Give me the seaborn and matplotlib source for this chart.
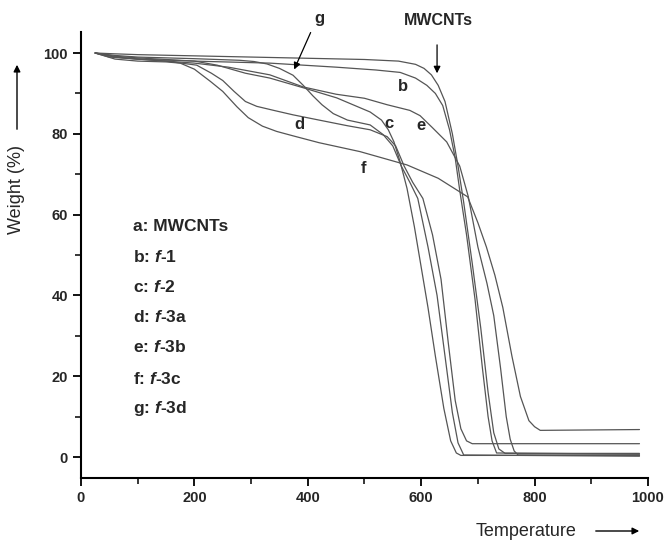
import numpy as np
import pandas as pd
import seaborn as sns
import matplotlib.pyplot as plt
from matplotlib.ticker import MultipleLocator

# TGA curves (temperature, weight %)
T_a = [25, 60, 100, 200, 300, 400, 500, 560, 590, 605, 618, 630, 642, 655, 665, 675, 690, 705, 718, 728, 737, 748, 985]
W_a = [100, 99.8, 99.6, 99.3, 99.0, 98.7, 98.4, 98.0, 97.2, 96.2, 94.6, 92.0, 88.0, 80.0, 72.0, 63.0, 48.0, 32.0, 16.0, 6.0, 2.0, 0.9, 0.9]

T_b = [25, 50, 100, 200, 333, 450, 520, 563, 590, 610, 625, 638, 650, 660, 668, 680, 695, 708, 718, 725, 733, 985]
W_b = [100, 99.0, 98.5, 98.0, 97.5, 96.5, 95.8, 95.2, 93.8, 92.0, 90.0, 87.0, 81.0, 74.0, 66.0, 55.0, 39.0, 22.0, 10.0, 4.0, 1.0, 0.7]

T_c = [25, 60, 100, 200, 240, 290, 333, 392, 451, 510, 530, 542, 552, 563, 575, 588, 600, 612, 625, 640, 652, 662, 670, 985]
W_c = [100, 99.2, 98.8, 98.0, 97.0, 95.0, 93.8, 91.4, 88.9, 85.4, 83.4, 81.0, 78.0, 73.0, 66.5, 57.0, 47.0, 37.0, 25.0, 12.0, 4.0, 1.0, 0.4, 0.4]

T_d = [25, 60, 100, 150, 204, 230, 250, 270, 290, 310, 340, 374, 420, 470, 510, 540, 555, 570, 585, 603, 620, 635, 648, 660, 670, 680, 690, 985]
W_d = [100, 99.0, 98.5, 98.0, 97.0, 95.0, 93.2, 90.5, 88.0, 86.8, 85.8, 84.7, 83.4, 82.0, 81.0, 79.3, 77.0, 72.0, 68.0, 64.0, 55.0, 44.0, 28.0, 14.0, 7.0, 4.0, 3.3, 3.3]

T_e = [25, 60, 100, 200, 260, 333, 392, 450, 500, 540, 580, 598, 620, 645, 668, 683, 700, 716, 728, 740, 750, 757, 764, 771, 985]
W_e = [100, 99.0, 98.5, 97.5, 96.5, 94.6, 91.6, 89.8, 88.8, 87.2, 85.8, 84.5, 81.5, 78.0, 72.0, 64.5, 52.0, 43.0, 35.0, 22.0, 10.0, 4.4, 1.5, 0.5, 0.5]

T_f = [25, 60, 100, 150, 175, 200, 228, 250, 275, 295, 320, 345, 374, 420, 492, 575, 630, 682, 700, 715, 730, 744, 760, 775, 790, 800, 810, 985]
W_f = [100, 98.5, 98.0, 97.8, 97.5, 96.0, 93.0, 90.5, 86.7, 84.0, 81.9, 80.6, 79.5, 77.8, 75.6, 72.3, 69.0, 64.4, 58.0, 52.0, 45.0, 37.0, 25.0, 15.0, 9.0, 7.5, 6.6, 6.8]

T_g = [25, 60, 100, 200, 280, 305, 328, 350, 374, 392, 409, 425, 445, 470, 510, 533, 550, 565, 580, 594, 612, 628, 642, 655, 665, 675, 985]
W_g = [100, 99.4, 99.0, 98.6, 98.2, 97.9, 97.3, 96.2, 94.5, 92.0, 89.4, 87.2, 85.0, 83.4, 82.2, 79.8, 77.0, 72.0, 68.0, 64.0, 52.0, 40.0, 25.0, 11.0, 3.5, 0.5, 0.2]

curve_ids = ["a", "b", "c", "d", "e", "f", "g"]
temps = [T_a, T_b, T_c, T_d, T_e, T_f, T_g]
weights = [W_a, W_b, W_c, W_d, W_e, W_f, W_g]

legend_lines = ["a: MWCNTs", "b: $\\mathit{f}$-1", "c: $\\mathit{f}$-2", "d: $\\mathit{f}$-3a",
                "e: $\\mathit{f}$-3b", "f: $\\mathit{f}$-3c", "g: $\\mathit{f}$-3d"]

frames = []
for cid, t, w in zip(curve_ids, temps, weights):
    frames.append(pd.DataFrame({"T": t, "W": w, "sample": cid}))
df = pd.concat(frames, ignore_index=True)

sns.set_theme(style="ticks")
plt.rcParams['font.family'] = ['Liberation Sans', 'DejaVu Sans']
plt.rcParams['mathtext.fontset'] = 'custom'
plt.rcParams['mathtext.it'] = 'Liberation Sans:italic:bold'
plt.rcParams['mathtext.rm'] = 'Liberation Sans:bold'

fig = plt.figure(figsize=(6.65, 5.52), dpi=100)
ax = fig.add_axes([0.1218, 0.134, 0.8526, 0.808])

sns.lineplot(data=df, x="T", y="W", hue="sample", units="sample", estimator=None,
             palette=["#555555"] * 7, linewidth=0.9, legend=False, ax=ax)

ax.set_xlim(0, 1000)
ax.set_ylim(-5.2, 105.2)
ax.xaxis.set_major_locator(MultipleLocator(200))
ax.xaxis.set_minor_locator(MultipleLocator(100))
ax.yaxis.set_major_locator(MultipleLocator(20))
ax.yaxis.set_minor_locator(MultipleLocator(10))
sns.despine(ax=ax)
for s in ["left", "bottom"]:
    ax.spines[s].set_linewidth(1.5)
    ax.spines[s].set_color("black")
ax.tick_params(which="major", length=6, width=1.3, color="black", direction="out", labelsize=10.5)
ax.tick_params(which="minor", length=4, width=1.1, color="black", direction="out")
for lab in ax.get_xticklabels() + ax.get_yticklabels():
    lab.set_fontweight("bold")
ax.set_xlabel("")
ax.set_ylabel("")

# legend block
ys = [57, 49.4, 42, 34.6, 27.2, 19.3, 11.9]
for txt, yv in zip(legend_lines, ys):
    ax.text(92, yv, txt, fontsize=12.5, fontweight="bold", ha="left", va="center")

# curve letters
for lab, x, y in [("b", 568, 91.6), ("c", 543, 82.5), ("e", 600, 82),
                  ("d", 385, 82.2), ("f", 498, 71.3)]:
    ax.text(x, y, lab, fontsize=12, fontweight="bold", ha="center", va="center")

ax.text(421, 108.5, "g", fontsize=12, fontweight="bold", ha="center", va="center", clip_on=False)
ax.annotate("", xy=(374, 95.3), xytext=(407, 105.7), annotation_clip=False,
            arrowprops=dict(arrowstyle="-|>", color="black", lw=0.9, mutation_scale=10))
ax.text(630, 108.0, "MWCNTs", fontsize=11.5, fontweight="bold", ha="center", va="center", clip_on=False)
ax.annotate("", xy=(628, 94.3), xytext=(628, 102.7), annotation_clip=False,
            arrowprops=dict(arrowstyle="-|>", color="black", lw=0.9, mutation_scale=10))

# axis titles with arrows
fig.text(526 / 665, 21 / 552, "Temperature", fontsize=13, ha="center", va="center")
ax.annotate("", xy=(642, 21), xytext=(593, 21), xycoords="figure pixels", textcoords="figure pixels",
            arrowprops=dict(arrowstyle="-|>", color="black", lw=1.0, mutation_scale=10))
fig.text(17 / 665, 362 / 552, "Weight (%)", fontsize=13, rotation=90, ha="center", va="center")
ax.annotate("", xy=(17, 490), xytext=(17, 420), xycoords="figure pixels", textcoords="figure pixels",
            arrowprops=dict(arrowstyle="-|>", color="black", lw=1.0, mutation_scale=10))

fig.savefig("out.png", dpi=100)
